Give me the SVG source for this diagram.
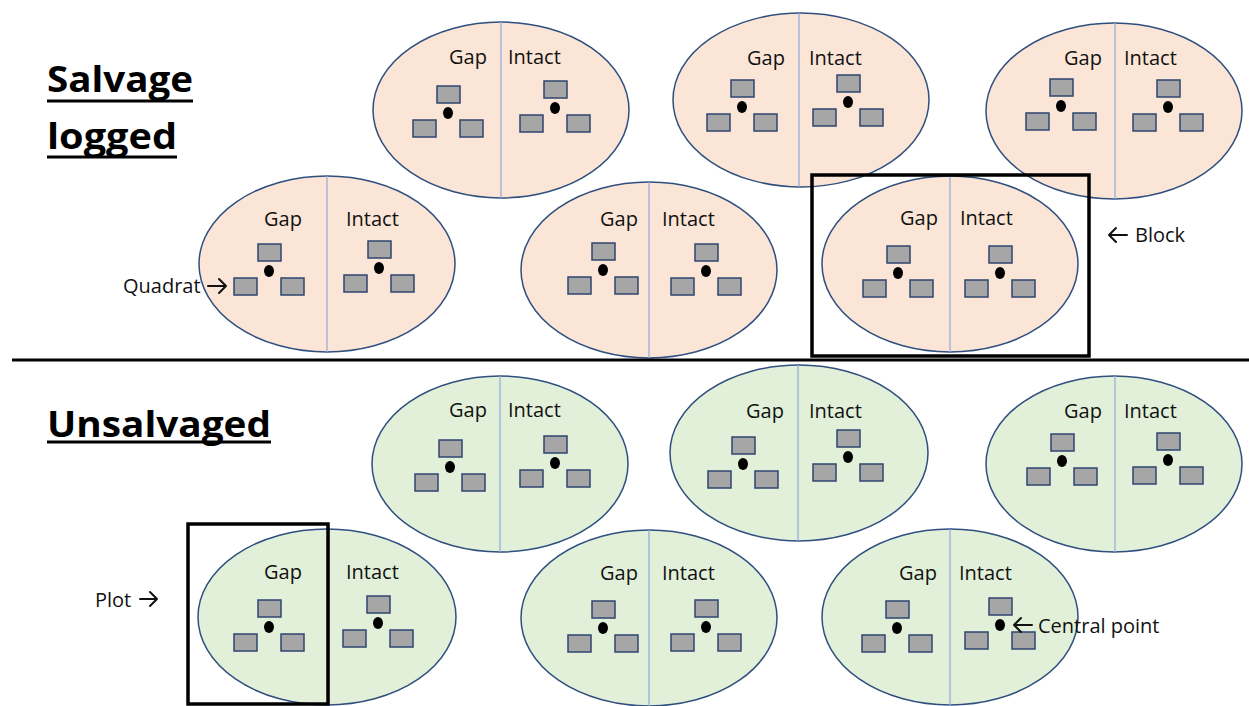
<svg xmlns="http://www.w3.org/2000/svg" xmlns:xlink="http://www.w3.org/1999/xlink" width="1249" height="706" viewBox="0 0 1249 706">
<style>
.ps{fill:#FBE5D6;stroke:#2F4F7F;stroke-width:1.5}
.pu{fill:#E2F0D9;stroke:#2F4F7F;stroke-width:1.5}
.div{stroke:#8FAADC;stroke-width:1.2}
.q{fill:#A6A6A6;stroke:#2F4470;stroke-width:1.5}
.lab{font-family:"Open Sans","Liberation Sans",Arial,sans-serif;font-size:20px;fill:#111}
.arr{fill:none;stroke:#111;stroke-width:2;stroke-linecap:round;stroke-linejoin:round}
.title{font-family:"Open Sans","Liberation Sans",Arial,sans-serif;font-size:36px;font-weight:bold;fill:#000}
.ul{stroke:#000;stroke-width:3}
.box{fill:none;stroke:#000;stroke-width:3.5}
</style>
<defs>
<g id="triad">
<rect class="q" x="-11" y="-27" width="23" height="17"/>
<rect class="q" x="-35" y="7" width="23" height="17"/>
<rect class="q" x="12" y="7" width="23" height="17"/>
<ellipse cx="0" cy="0" rx="5" ry="6" fill="#000"/>
</g>
</defs>
<rect width="1249" height="706" fill="#fff"/>

<g id="titles">
<text class="title" x="47" y="92" textLength="146" lengthAdjust="spacingAndGlyphs">Salvage</text>
<line class="ul" x1="47" y1="101" x2="193" y2="101"/>
<text class="title" x="47" y="149" textLength="130" lengthAdjust="spacingAndGlyphs">logged</text>
<line class="ul" x1="47" y1="157" x2="177" y2="157"/>
<text class="title" x="47" y="437" textLength="224" lengthAdjust="spacingAndGlyphs">Unsalvaged</text>
<line class="ul" x1="47" y1="442" x2="271" y2="442"/>
</g>

<g id="plot-E1">
<ellipse class="ps" cx="501" cy="110" rx="128" ry="88"/>
<line class="div" x1="501" y1="22" x2="501" y2="198"/>
<text class="lab" x="449" y="64">Gap</text>
<text class="lab" x="508" y="64">Intact</text>
<use xlink:href="#triad" x="448" y="113"/>
<use xlink:href="#triad" x="555" y="108"/>
</g>
<g id="plot-E2">
<ellipse class="ps" cx="801" cy="100" rx="128" ry="87"/>
<line class="div" x1="799" y1="13" x2="799" y2="187"/>
<text class="lab" x="747" y="65">Gap</text>
<text class="lab" x="809" y="65">Intact</text>
<use xlink:href="#triad" x="742" y="107"/>
<use xlink:href="#triad" x="848" y="102"/>
</g>
<g id="plot-E3">
<ellipse class="ps" cx="1114" cy="111" rx="128" ry="88"/>
<line class="div" x1="1115" y1="23" x2="1115" y2="199"/>
<text class="lab" x="1064" y="65">Gap</text>
<text class="lab" x="1124" y="65">Intact</text>
<use xlink:href="#triad" x="1061" y="106"/>
<use xlink:href="#triad" x="1168" y="107"/>
</g>
<g id="plot-E4">
<ellipse class="ps" cx="327" cy="264" rx="128" ry="88"/>
<line class="div" x1="327" y1="176" x2="327" y2="352"/>
<text class="lab" x="264" y="226">Gap</text>
<text class="lab" x="346" y="226">Intact</text>
<use xlink:href="#triad" x="269" y="271"/>
<use xlink:href="#triad" x="379" y="268"/>
</g>
<g id="plot-E5">
<ellipse class="ps" cx="649" cy="270" rx="128" ry="88"/>
<line class="div" x1="649" y1="182" x2="649" y2="358"/>
<text class="lab" x="600" y="226">Gap</text>
<text class="lab" x="662" y="226">Intact</text>
<use xlink:href="#triad" x="603" y="270"/>
<use xlink:href="#triad" x="706" y="271"/>
</g>
<g id="plot-E6">
<ellipse class="ps" cx="950" cy="264" rx="128" ry="88"/>
<line class="div" x1="950" y1="176" x2="950" y2="352"/>
<text class="lab" x="900" y="225">Gap</text>
<text class="lab" x="960" y="225">Intact</text>
<use xlink:href="#triad" x="898" y="273"/>
<use xlink:href="#triad" x="1000" y="273"/>
</g>

<g id="plot-E7">
<ellipse class="pu" cx="500" cy="464" rx="128" ry="88"/>
<line class="div" x1="500" y1="376" x2="500" y2="552"/>
<text class="lab" x="449" y="417">Gap</text>
<text class="lab" x="508" y="417">Intact</text>
<use xlink:href="#triad" x="450" y="467"/>
<use xlink:href="#triad" x="555" y="463"/>
</g>
<g id="plot-E8">
<ellipse class="pu" cx="799" cy="453" rx="129" ry="88"/>
<line class="div" x1="798" y1="365" x2="798" y2="541"/>
<text class="lab" x="746" y="418">Gap</text>
<text class="lab" x="809" y="418">Intact</text>
<use xlink:href="#triad" x="743" y="464"/>
<use xlink:href="#triad" x="848" y="457"/>
</g>
<g id="plot-E9">
<ellipse class="pu" cx="1114" cy="464" rx="128" ry="88"/>
<line class="div" x1="1115" y1="376" x2="1115" y2="552"/>
<text class="lab" x="1064" y="418">Gap</text>
<text class="lab" x="1124" y="418">Intact</text>
<use xlink:href="#triad" x="1062" y="461"/>
<use xlink:href="#triad" x="1168" y="460"/>
</g>
<g id="plot-E10">
<ellipse class="pu" cx="327" cy="617" rx="129" ry="88"/>
<line class="div" x1="329" y1="529" x2="329" y2="706"/>
<text class="lab" x="264" y="579">Gap</text>
<text class="lab" x="346" y="579">Intact</text>
<use xlink:href="#triad" x="269" y="627"/>
<use xlink:href="#triad" x="378" y="623"/>
</g>
<g id="plot-E11">
<ellipse class="pu" cx="649" cy="618" rx="128" ry="88"/>
<line class="div" x1="649" y1="530" x2="649" y2="706"/>
<text class="lab" x="600" y="580">Gap</text>
<text class="lab" x="662" y="580">Intact</text>
<use xlink:href="#triad" x="603" y="628"/>
<use xlink:href="#triad" x="706" y="627"/>
</g>
<g id="plot-E12">
<ellipse class="pu" cx="950" cy="617" rx="128" ry="88"/>
<line class="div" x1="950" y1="529" x2="950" y2="706"/>
<text class="lab" x="899" y="580">Gap</text>
<text class="lab" x="959" y="580">Intact</text>
<use xlink:href="#triad" x="897" y="628"/>
<use xlink:href="#triad" x="1000" y="625"/>
</g>

<g id="connectors">
<line x1="12" y1="360" x2="1249" y2="360" stroke="#000" stroke-width="3"/>
<rect id="block-box" class="box" x="812" y="175" width="277" height="181"/>
<rect id="plot-box" class="box" x="188" y="524" width="140" height="180"/>
<path class="arr" d="M208,286 H226 M219,279 L226,286 L219,293"/>
<path class="arr" d="M1127,235 H1109 M1116,228 L1109,235 L1116,242"/>
<path class="arr" d="M140,599 H157 M150,592 L157,599 L150,606"/>
<path class="arr" d="M1032,625 H1014 M1021,618 L1014,625 L1021,632"/>
</g>

<g id="annotations">
<text class="lab" x="123" y="293">Quadrat</text>
<text class="lab" x="1135" y="242">Block</text>
<text class="lab" x="95" y="607">Plot</text>
<text class="lab" x="1038" y="633">Central point</text>
</g>
</svg>
